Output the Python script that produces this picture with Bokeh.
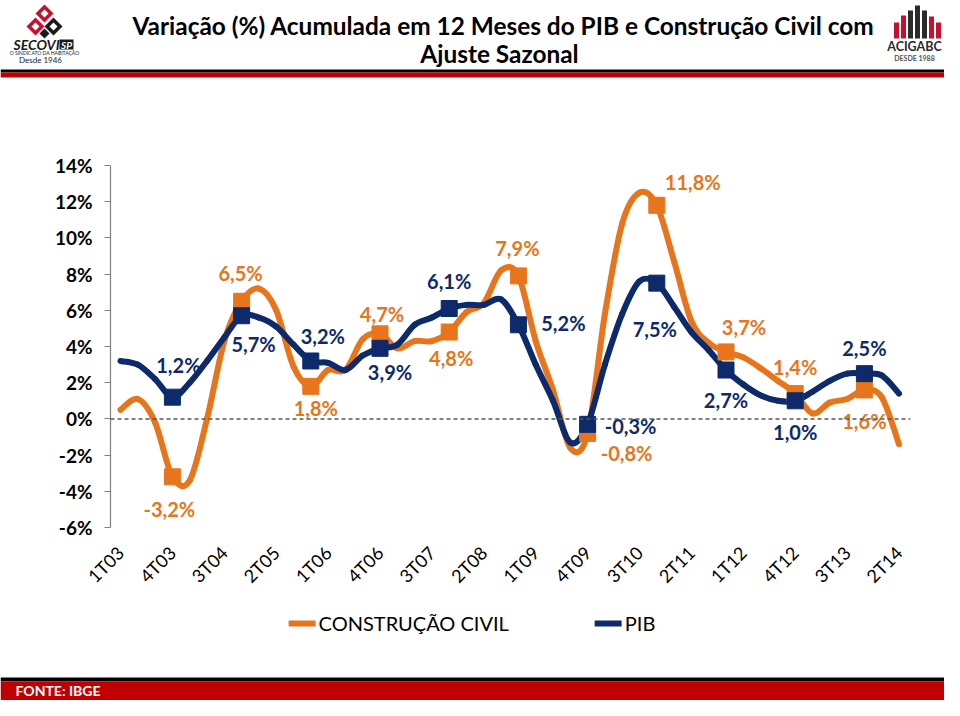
import math
from bokeh.plotting import figure
from bokeh.layouts import column
from bokeh.models import (ColumnDataSource, FixedTicker, PrintfTickFormatter, Span,
                          Range1d, Legend, LegendItem)
from bokeh.embed import file_html
from bokeh.resources import INLINE
from bokeh.core.properties import value

# ---------------- data ----------------
tick_labels = ["1T03", "4T03", "3T04", "2T05", "1T06", "4T06", "3T07", "2T08",
               "1T09", "4T09", "3T10", "2T11", "1T12", "4T12", "3T13", "2T14"]
tick_pos = [0, 3, 6, 9, 12, 15, 18, 21, 24, 27, 30, 33, 36, 39, 42, 45]

construcao = [0.5, 1.1, -0.2, -3.2, -3.4, 0.0, 4.3, 6.5, 7.2, 6.0, 2.9, 1.8,
              2.7, 2.7, 4.4, 4.7, 3.9, 4.3, 4.3, 4.8, 5.9, 6.4, 8.2, 7.9,
              4.3, 1.6, -1.6, -0.8, 5.8, 10.8, 12.5, 11.8, 8.7, 5.4, 4.2, 3.7,
              3.4, 2.8, 2.1, 1.4, 0.3, 0.9, 1.1, 1.6, 1.2, -1.4]
pib = [3.2, 3.0, 2.2, 1.2, 2.0, 3.2, 4.5, 5.7, 5.6, 5.1, 4.1, 3.2,
       3.1, 2.7, 3.5, 3.9, 4.1, 5.2, 5.6, 6.1, 6.3, 6.3, 6.6, 5.2,
       3.0, 1.0, -1.3, -0.3, 3.0, 5.8, 7.6, 7.5, 6.2, 4.8, 3.8, 2.7,
       1.9, 1.3, 1.0, 1.0, 1.5, 2.1, 2.5, 2.5, 2.4, 1.4]
marker_idx = [3, 7, 11, 15, 19, 23, 27, 31, 35, 39, 43]
series_names = ["CONSTRUÇÃO CIVIL", "PIB"]
title_lines = ["Variação (%) Acumulada em 12 Meses do PIB e Construção Civil com", "Ajuste Sazonal"]
source_note = "FONTE: IBGE"

# label offsets (screen px) -- styling only
cc_dx = [-3, -1, 5, 2, 2, -1, 39, 36, 18, 0, 0]
cc_dy = [32, -28, 22, -20, 26, -28, 20, -23, -25, -27, 31]
pib_dx = [6, 12, 12, 10, 0, 45, 43, -2, 0, 0, 0]
pib_dy = [-32, 28, -25, 24, -27, -2, 2, 46, 30, 31, -26]

ORANGE = "#E8751C"
NAVY = "#0D2A6B"
RED = "#C00000"
FONT = "Lato"
W = 944


def deco_fig(top, bottom):
    f = figure(width=W, height=bottom - top, x_range=Range1d(0, W), y_range=Range1d(bottom, top),
               output_backend="svg", toolbar_location=None, x_axis_type=None, y_axis_type=None,
               min_border=0, min_border_left=0, min_border_right=0, min_border_top=0, min_border_bottom=0)
    f.outline_line_color = None
    f.xgrid.visible = False
    f.ygrid.visible = False
    f.frame_align = False
    return f


# ---------------- header ----------------
h = deco_fig(0, 80)
h.text(x=[503], y=[25], text=[title_lines[0]], text_font=value(FONT), text_font_style="bold",
       text_font_size="24.4px", text_color="black", text_align="center", text_baseline="middle")
h.text(x=[499], y=[53], text=[title_lines[1]], text_font=value(FONT), text_font_style="bold",
       text_font_size="24.4px", text_color="black", text_align="center", text_baseline="middle")
h.quad(left=[0], right=[W], top=[69], bottom=[72], fill_color="black", line_color=None)
h.quad(left=[0], right=[W], top=[72], bottom=[77], fill_color=RED, line_color=None)

# SECOVI logo (approximation)
dia = [((44, 13, 9), "#C8102E"), ((44, 13, 4), "white"), ((35, 26, 9), "#C8102E"),
       ((53, 26, 9), "#1A1A1A"), ((35, 26, 4), "white"), ((53, 26, 4), "white"),
       ((44, 33, 5), "#1A1A1A")]
h.patches(xs=[[cx, cx + r, cx, cx - r] for (cx, cy, r), _ in dia],
          ys=[[cy - r, cy, cy + r, cy] for (cx, cy, r), _ in dia],
          fill_color=[c for _, c in dia], line_color=None)
h.text(x=[36], y=[44], text=["SECOVI"], text_font=value(FONT), text_font_style="bold italic",
       text_font_size="14px", text_color="#1A1A1A", text_align="center", text_baseline="middle")
h.quad(left=[59], right=[73], top=[39], bottom=[49], fill_color="#1A1A1A", line_color=None)
h.text(x=[66], y=[44], text=["SP"], text_font=value(FONT), text_font_style="bold italic",
       text_font_size="10px", text_color="white", text_align="center", text_baseline="middle")
h.text(x=[44], y=[52], text=["O SINDICATO DA HABITAÇÃO"], text_font=value(FONT),
       text_font_size="5px", text_color="#1A1A1A", text_align="center", text_baseline="middle")
h.text(x=[40], y=[59], text=["Desde 1946"], text_font=value(FONT),
       text_font_size="8px", text_color="#1A1A1A", text_align="center", text_baseline="middle")

# ACIGABC logo (approximation)
bar_x = [896, 903, 910, 917, 924, 931, 938]
bar_top = [22, 15, 10, 5, 10, 16, 22]
bar_col = ["#C8102E", "#C8102E", "#2B2B2B", "#2B2B2B", "#2B2B2B", "#C8102E", "#C8102E"]
h.quad(left=[b - 2.5 for b in bar_x], right=[b + 2.5 for b in bar_x], top=bar_top,
       bottom=[38] * len(bar_x), fill_color=bar_col, line_color=None)
h.text(x=[914], y=[46], text=["ACIGABC"], text_font=value(FONT), text_font_style="bold",
       text_font_size="12.5px", text_color="#2B2B2B", text_align="center", text_baseline="middle")
h.text(x=[914], y=[57], text=["DESDE 1988"], text_font=value(FONT), text_font_style="bold",
       text_font_size="7px", text_color="#555555", text_align="center", text_baseline="middle")

# ---------------- main chart ----------------
MAIN_TOP, MAIN_BOT = 80, 600
BL, FW = 110, 800
FT, FH = 165 - MAIN_TOP, 362
PXQ = 17.3
XS = -10 / PXQ
XE = XS + FW / PXQ

p = figure(width=W, height=MAIN_BOT - MAIN_TOP, x_range=Range1d(XS, XE), y_range=Range1d(-6, 14),
           output_backend="svg", toolbar_location=None,
           min_border_left=BL, min_border_right=W - BL - FW,
           min_border_top=FT, min_border_bottom=MAIN_BOT - MAIN_TOP - FT - FH)
p.frame_align = False
p.outline_line_color = None
p.xgrid.visible = False
p.ygrid.visible = False

p.yaxis.ticker = FixedTicker(ticks=list(range(-6, 15, 2)))
p.yaxis.formatter = PrintfTickFormatter(format="%d%%")
p.yaxis.axis_line_color = "#808080"
p.yaxis.axis_line_width = 1.2
p.yaxis.major_tick_line_color = "#808080"
p.yaxis.major_tick_out = 6
p.yaxis.major_tick_in = 0
p.yaxis.minor_tick_line_color = None
p.yaxis.major_label_text_font = FONT
p.yaxis.major_label_text_font_style = "bold"
p.yaxis.major_label_text_font_size = "19px"
p.yaxis.major_label_text_color = "black"
p.yaxis.major_label_standoff = 12

p.xaxis.ticker = FixedTicker(ticks=tick_pos)
p.xaxis.major_label_overrides = {t: l for t, l in zip(tick_pos, tick_labels)}
p.xaxis.axis_line_color = None
p.xaxis.major_tick_line_color = None
p.xaxis.minor_tick_line_color = None
p.xaxis.major_label_orientation = math.pi / 4
p.xaxis.major_label_text_font = FONT
p.xaxis.major_label_text_font_size = "18px"
p.xaxis.major_label_text_color = "black"
p.xaxis.major_label_standoff = 16

p.add_layout(Span(location=0, dimension="width", line_color="#555555",
                  line_dash="4 3", line_width=1.5))


def bezier_source(vals):
    n = len(vals)
    d = dict(x0=[], y0=[], x1=[], y1=[], cx0=[], cy0=[], cx1=[], cy1=[])
    for i in range(n - 1):
        ip, i2 = max(i - 1, 0), min(i + 2, n - 1)
        d["x0"].append(i); d["y0"].append(vals[i])
        d["x1"].append(i + 1); d["y1"].append(vals[i + 1])
        d["cx0"].append(i + (i + 1 - ip) / 6); d["cy0"].append(vals[i] + (vals[i + 1] - vals[ip]) / 6)
        d["cx1"].append(i + 1 - (i2 - i) / 6); d["cy1"].append(vals[i + 1] - (vals[i2] - vals[i]) / 6)
    return ColumnDataSource(d)


def fmt(v):
    return f"{v:.1f}%".replace(".", ",")


specs = ((construcao, ORANGE, cc_dx, cc_dy), (pib, NAVY, pib_dx, pib_dy))
for vals, col, dx, dy in specs:
    p.bezier(x0="x0", y0="y0", x1="x1", y1="y1", cx0="cx0", cy0="cy0", cx1="cx1", cy1="cy1",
             source=bezier_source(vals), line_color=col, line_width=6, line_cap="round")
for vals, col, dx, dy in specs:
    ms = ColumnDataSource(dict(x=marker_idx, y=[vals[i] for i in marker_idx],
                               t=[fmt(vals[i]) for i in marker_idx], dx=dx, dy=dy))
    p.scatter(x="x", y="y", source=ms, marker="square", size=16, fill_color=col, line_color=col)
    p.text(x="x", y="y", text="t", source=ms, x_offset="dx", y_offset="dy",
           text_font=value(FONT), text_font_style="bold", text_font_size="20px",
           text_color=col, text_align="center", text_baseline="middle")

# ---------------- footer with legend ----------------
f = deco_fig(600, 700)
# legend proxies kept outside the visible range (only their swatches are shown)
r1 = f.line(x=[-60, -50], y=[650, 650], line_color=ORANGE, line_width=6, line_cap="round")
r2 = f.line(x=[-60, -50], y=[650, 650], line_color=NAVY, line_width=6, line_cap="round")
leg = Legend(items=[LegendItem(label=series_names[0], renderers=[r1]),
                    LegendItem(label=series_names[1], renderers=[r2])],
             orientation="horizontal", location="top_center", margin=11, padding=0,
             spacing=86, label_standoff=3, glyph_width=27, glyph_height=22,
             label_text_font=FONT, label_text_font_size="20px", label_text_color="black",
             border_line_color=None, background_fill_alpha=0)
f.add_layout(leg, "center")
f.quad(left=[0], right=[W], top=[677], bottom=[681], fill_color="black", line_color=None)
f.quad(left=[0], right=[W], top=[681], bottom=[700], fill_color=RED, line_color=None)
f.text(x=[15], y=[690], text=[source_note], text_font=value(FONT), text_font_style="bold",
       text_font_size="14px", text_color="white", text_align="left", text_baseline="middle")

layout = column(h, p, f, spacing=0)
open("out.html", "w").write(file_html(layout, INLINE))
